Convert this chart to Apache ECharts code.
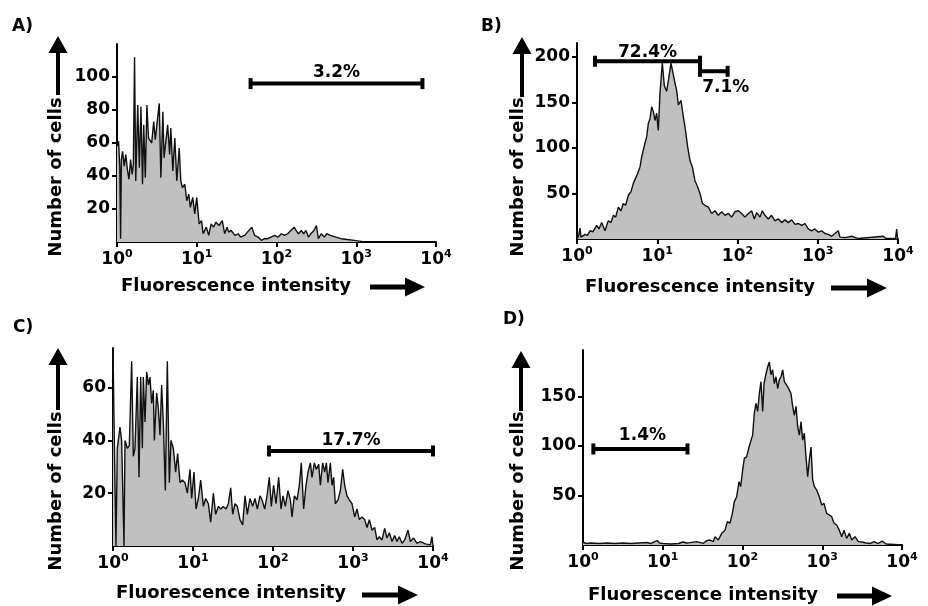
<!DOCTYPE html>
<html><head><meta charset="utf-8">
<script src="https://cdn.jsdelivr.net/npm/echarts@6/dist/echarts.min.js"></script>
<style>html,body{margin:0;padding:0;background:#fff}#c{width:928px;height:606px}</style>
</head><body><div id="c"></div>
<script>
// Histogram points: [log10(fluorescence intensity), number of cells]
const histA = [[0,58],[0.02,61],[0.035,45],[0.045,2],[0.055,50],[0.07,55],[0.09,46],[0.11,53],[0.13,44],[0.15,38],[0.17,50],[0.19,41],[0.205,47],[0.22,112],[0.235,37],[0.26,83],[0.28,45],[0.30,82],[0.32,35],[0.335,71],[0.355,39],[0.375,83],[0.395,63],[0.415,64],[0.435,60],[0.46,73],[0.48,62],[0.50,71],[0.53,84],[0.55,39],[0.575,79],[0.59,51],[0.615,51],[0.635,71],[0.66,53],[0.675,69],[0.70,43],[0.725,63],[0.75,37],[0.78,57],[0.80,37],[0.82,33],[0.85,35],[0.875,25],[0.90,29],[0.92,21],[0.95,27],[0.975,17],[1.0,27],[1.03,11],[1.06,13],[1.08,5],[1.12,9],[1.15,4],[1.18,11],[1.21,9],[1.24,12],[1.28,10],[1.32,13],[1.35,5],[1.38,9],[1.40,6],[1.43,7],[1.48,4],[1.52,5],[1.55,3],[1.6,4],[1.69,9],[1.725,4],[1.77,3],[1.81,1],[1.85,2],[1.89,2],[1.93,3],[1.975,4],[2.02,3],[2.06,5],[2.1,4],[2.14,5],[2.18,7],[2.22,9],[2.245,7],[2.275,5],[2.31,7],[2.34,5],[2.37,7],[2.4,3],[2.43,5],[2.47,7],[2.5,10],[2.525,2],[2.56,5],[2.6,3],[2.63,5],[2.675,4],[2.7,5],[2.745,3],[2.81,2],[2.89,1.5],[2.975,1],[3.04,0.5],[3.1,0]];
const histB = [[0,0],[0.02,3],[0.037,12],[0.05,2],[0.1,5],[0.13,4],[0.162,9],[0.2,8],[0.245,15],[0.274,11],[0.307,18],[0.349,9],[0.39,20],[0.424,18],[0.453,26],[0.482,24],[0.515,35],[0.548,31],[0.577,39],[0.606,37],[0.64,48],[0.673,52],[0.702,61],[0.723,59],[0.756,72],[0.785,79],[0.806,90],[0.827,92],[0.847,105],[0.868,112],[0.889,127],[0.91,132],[0.93,145],[0.951,140],[0.972,130],[0.993,138],[1.013,119],[1.034,160],[1.063,193],[1.088,168],[1.117,162],[1.146,178],[1.171,193],[1.196,182],[1.221,171],[1.242,163],[1.263,147],[1.296,152],[1.325,134],[1.346,123],[1.379,101],[1.408,86],[1.437,79],[1.47,64],[1.504,57],[1.533,50],[1.562,39],[1.595,37],[1.637,35],[1.678,28],[1.72,31],[1.761,26],[1.803,30],[1.844,26],[1.886,28],[1.927,24],[1.969,30],[2.01,31],[2.052,28],[2.093,24],[2.135,28],[2.176,31],[2.21,22],[2.239,29],[2.28,24],[2.309,31],[2.342,26],[2.384,22],[2.425,26],[2.467,20],[2.509,22],[2.55,18],[2.592,21],[2.633,18],[2.675,21],[2.716,16],[2.758,17],[2.8,15],[2.841,17],[2.882,11],[2.924,9],[2.965,11],[3.007,7.5],[3.048,9],[3.09,6],[3.132,5],[3.173,3],[3.215,6],[3.256,9],[3.277,2],[3.34,1.5],[3.422,3],[3.505,0.5],[3.817,3],[3.85,0.5],[3.97,0.5],[3.983,11],[3.995,1]];
const histC = [[0,75],[0.012,49],[0.037,0],[0.054,37],[0.087,45],[0.108,40],[0.1375,0],[0.15,40],[0.179,37],[0.204,38],[0.233,70],[0.254,34],[0.275,37],[0.304,64],[0.325,26],[0.346,64],[0.367,37],[0.379,64],[0.4,47],[0.421,66],[0.442,61],[0.4625,64],[0.483,54],[0.504,59],[0.517,40],[0.546,58],[0.567,52],[0.5875,42],[0.608,61],[0.629,47],[0.654,21],[0.679,70],[0.704,24],[0.725,40],[0.754,37],[0.783,28],[0.808,35],[0.8375,24],[0.867,25],[0.9,24],[0.929,20],[0.9625,29],[0.983,18],[1.0125,28],[1.0375,14],[1.067,18],[1.096,25],[1.129,15],[1.158,18],[1.192,16],[1.221,9],[1.254,20],[1.283,12],[1.317,15],[1.346,14],[1.379,15],[1.4125,14],[1.442,16],[1.471,22],[1.496,12],[1.525,16],[1.554,15],[1.5875,10],[1.621,8],[1.65,19],[1.679,12],[1.7125,18],[1.746,15],[1.775,18],[1.804,14],[1.8375,19],[1.8625,17.5],[1.896,14],[1.925,19],[1.954,26],[1.979,15],[2.008,23],[2.0375,16],[2.071,26],[2.1,14],[2.125,19],[2.154,15],[2.1875,21],[2.217,17.5],[2.2375,11],[2.267,19],[2.3,17.5],[2.329,23],[2.354,31.5],[2.383,14],[2.4125,23],[2.4375,28],[2.467,31.5],[2.4875,26],[2.517,31.5],[2.542,29],[2.571,31],[2.592,23],[2.621,31.5],[2.646,28],[2.667,31.5],[2.6875,24],[2.717,31.5],[2.7375,23],[2.758,26],[2.779,16],[2.8125,17.5],[2.842,21],[2.871,29],[2.896,23],[2.925,19],[2.954,17.5],[2.9875,16],[3.021,11],[3.05,14],[3.079,10],[3.1125,11],[3.146,10],[3.175,7],[3.204,10],[3.2375,6],[3.271,7],[3.3,2.3],[3.329,3.5],[3.3625,2.3],[3.396,6.7],[3.425,3],[3.454,5],[3.4875,1.7],[3.521,4],[3.55,1.7],[3.579,3.5],[3.6125,1],[3.646,2.3],[3.6875,6],[3.717,1.7],[3.758,3],[3.8,1],[3.8417,1.7],[3.904,0.8],[3.967,0.4],[3.9875,3.5],[4.0,0]];
const histD = [[0,2.5],[0.05,1.5],[0.1,2],[0.2,1.5],[0.3,2],[0.4,1.5],[0.5,2],[0.6,1.5],[0.7,2],[0.8,2.5],[0.85,1.5],[0.9,3.5],[0.93,4.5],[0.96,2],[1.0,1.5],[1.1,1],[1.2,1.5],[1.25,3],[1.3,2],[1.342,2.4],[1.425,3.4],[1.509,1.7],[1.551,4.4],[1.592,5],[1.634,3.4],[1.655,8.4],[1.697,5],[1.739,11.8],[1.781,15],[1.81,23.6],[1.843,22],[1.873,32],[1.898,43.8],[1.927,48.8],[1.956,64],[1.977,59],[2.002,75.8],[2.023,87.5],[2.052,89],[2.082,99],[2.107,101],[2.127,111],[2.148,133],[2.169,143],[2.19,135],[2.211,153],[2.232,165],[2.253,135],[2.27,163],[2.295,173],[2.316,180],[2.336,185],[2.357,172],[2.378,177],[2.399,163],[2.42,170],[2.441,158],[2.462,167],[2.483,170],[2.504,177],[2.525,165],[2.545,163],[2.566,160],[2.587,162],[2.608,153],[2.629,140],[2.65,131],[2.671,140],[2.692,119.5],[2.713,111],[2.734,124.6],[2.754,106],[2.775,113],[2.796,89],[2.817,69],[2.838,86],[2.859,99],[2.88,66],[2.901,59],[2.93,55.6],[2.963,48.8],[2.993,40.4],[3.022,42],[3.055,32],[3.089,30.3],[3.118,28.6],[3.148,22],[3.181,20.2],[3.214,15],[3.244,8.4],[3.273,15],[3.306,6.7],[3.34,11.8],[3.369,5],[3.411,8.4],[3.453,3.4],[3.5,3],[3.55,2],[3.6,1.5],[3.65,3.5],[3.7,1.5],[3.75,4],[3.8,1],[3.9,0.5],[4.0,0]];

// Gates: [panel index, from (log10), to (log10), count level, label]
const gates = [
  [0, 1.675, 3.83, 96, '3.2%'],
  [1, 0.224, 1.533, 195, '72.4%'],
  [1, 1.533, 1.877, 184, '7.1%'],
  [2, 1.95, 4.0, 36, '17.7%'],
  [3, 0.13, 1.31, 97, '1.4%']
];

const panelLetters = ['A)', 'B)', 'C)', 'D)'];
const yMax = [120, 215, 75, 197];
const yTickValues = [[20, 40, 60, 80, 100], [50, 100, 150, 200], [20, 40, 60], [50, 100, 150]];
const xTitle = 'Fluorescence intensity';
const yTitle = 'Number of cells';

// ---------- layout / style ----------
const FONT = '"DejaVu Sans", Verdana, sans-serif';
const grids = [
  {left: 117, top: 44, width: 319, height: 198},
  {left: 577, top: 43, width: 321, height: 196},
  {left: 113, top: 348, width: 320, height: 198},
  {left: 583, top: 350, width: 319, height: 195}
];
const gateLabelStyle = [
  {position: 'top', distance: 3, offset: [0, 0]},
  {position: 'top', distance: 0, offset: [0, 0]},
  {position: 'bottom', distance: 8, offset: [12, 0]},
  {position: 'top', distance: 2, offset: [0, 0]},
  {position: 'top', distance: 5, offset: [2, 0]}
];
const letterPos = [[12, 27], [481, 27], [13, 328], [503, 320]];
const yTitlePos = [[56, 177], [518, 177], [56, 491], [518, 491]];
const xTitlePos = [[236, 286], [700, 287], [231, 593], [703, 595]];
const yArrow = [[58, 36, 53, 95], [522, 37, 54, 97], [58, 348, 365, 410], [521, 351, 368, 411]];
const xArrow = [[370, 405, 425, 287], [831, 867, 887, 288], [362, 398, 418, 595], [837, 872, 892, 596]];

const hists = [histA, histB, histC, histD];
const black = '#000';

const xAxes = [], yAxes = [], series = [], graphic = [];
for (let i = 0; i < 4; i++) {
  xAxes.push({
    gridIndex: i, type: 'log', logBase: 10, min: 1, max: 10000,
    axisLine: {lineStyle: {color: black, width: 2}},
    axisTick: {show: true, length: 5, lineStyle: {color: black, width: 2}},
    minorTick: {show: false}, splitLine: {show: false}, minorSplitLine: {show: false},
    axisLabel: {
      margin: 7, color: black,
      formatter: v => '{b|10}{s|' + Math.round(Math.log10(v)) + '}',
      rich: {
        b: {fontFamily: FONT, fontWeight: 'bold', fontSize: 17, color: black, lineHeight: 22},
        s: {fontFamily: FONT, fontWeight: 'bold', fontSize: 11, color: black, verticalAlign: 'top', lineHeight: 14}
      }
    }
  });
  yAxes.push({
    gridIndex: i, type: 'value', min: 0, max: yMax[i],
    axisLine: {show: true, lineStyle: {color: black, width: 2}},
    axisTick: {show: true, length: 5, customValues: yTickValues[i], lineStyle: {color: black, width: 2}},
    axisLabel: {customValues: yTickValues[i], color: black, fontFamily: FONT, fontWeight: 'bold', fontSize: 17, margin: 7},
    splitLine: {show: false}
  });
  series.push({
    type: 'line', xAxisIndex: i, yAxisIndex: i,
    data: hists[i].map(p => [Math.pow(10, p[0]), p[1]]),
    showSymbol: false, symbol: 'none', silent: true,
    lineStyle: {color: '#111', width: 1.4},
    areaStyle: {color: '#c0c0c0', opacity: 1},
    z: 2
  });
  graphic.push({type: 'text', x: letterPos[i][0], y: letterPos[i][1],
    style: {text: panelLetters[i], fill: black, font: 'bold 17px ' + FONT, align: 'left', verticalAlign: 'middle'}});
  graphic.push({type: 'text', x: yTitlePos[i][0], y: yTitlePos[i][1], rotation: Math.PI / 2,
    style: {text: yTitle, fill: black, font: 'bold 18px ' + FONT, align: 'center', verticalAlign: 'middle'}});
  graphic.push({type: 'text', x: xTitlePos[i][0], y: xTitlePos[i][1],
    style: {text: xTitle, fill: black, font: 'bold 18px ' + FONT, align: 'center', verticalAlign: 'middle'}});
  const [ax, tip, base, bottom] = yArrow[i];
  graphic.push({type: 'polygon', shape: {points: [[ax - 2, bottom], [ax - 2, base], [ax - 9.5, base], [ax, tip], [ax + 9.5, base], [ax + 2, base], [ax + 2, bottom]]}, style: {fill: black}});
  const [x0, xh, xt, ay] = xArrow[i];
  graphic.push({type: 'polygon', shape: {points: [[x0, ay - 2.5], [xh, ay - 2.5], [xh, ay - 9.5], [xt, ay], [xh, ay + 9.5], [xh, ay + 2.5], [x0, ay + 2.5]]}, style: {fill: black}});
}

gates.forEach((g, k) => {
  const [pi, from, to, level, text] = g;
  const ls = gateLabelStyle[k];
  series.push({
    type: 'line', xAxisIndex: pi, yAxisIndex: pi, clip: false, silent: true,
    lineStyle: {color: black, width: 4}, itemStyle: {color: black},
    showSymbol: true, z: 5,
    data: [
      {value: [Math.pow(10, from), level], symbol: 'rect', symbolSize: [4, 11]},
      {value: [Math.pow(10, (from + to) / 2), level], symbol: 'rect', symbolSize: 0,
        label: {show: true, formatter: text, position: ls.position, distance: ls.distance, offset: ls.offset,
          color: black, fontFamily: FONT, fontWeight: 'bold', fontSize: 17}},
      {value: [Math.pow(10, to), level], symbol: 'rect', symbolSize: [4, 11]}
    ]
  });
});

const chart = echarts.init(document.getElementById('c'), null, {renderer: 'canvas'});
chart.setOption({
  animation: false,
  backgroundColor: '#fff',
  grid: grids.map(g => Object.assign({containLabel: false}, g)),
  xAxis: xAxes,
  yAxis: yAxes,
  series: series,
  graphic: graphic
});
</script></body></html>
